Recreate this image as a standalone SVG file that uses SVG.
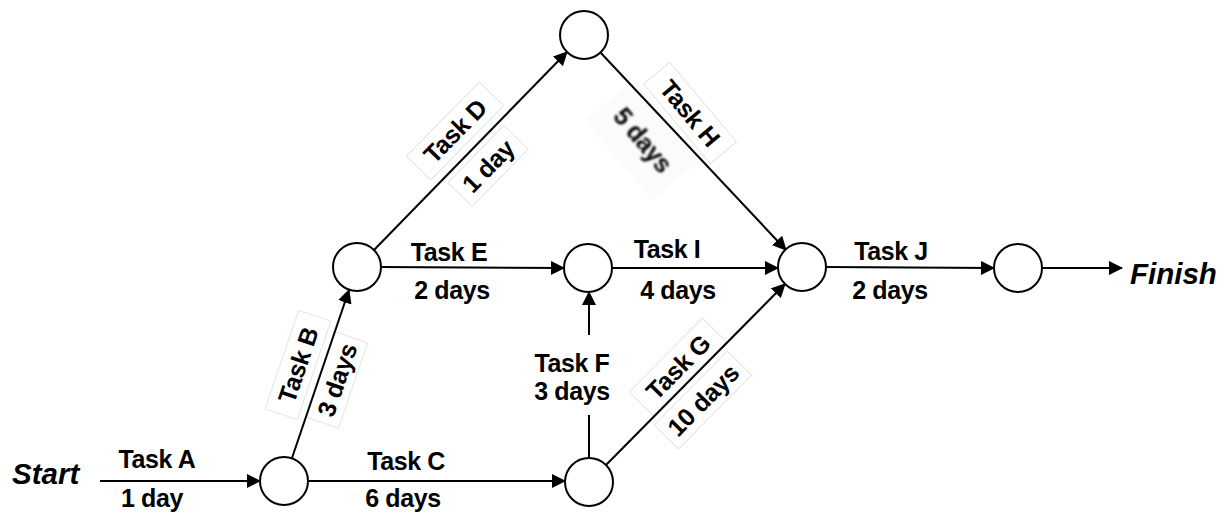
<svg xmlns="http://www.w3.org/2000/svg" width="1225" height="513" viewBox="0 0 1225 513">
  <style>
    .node { fill: #ffffff; stroke: #000000; stroke-width: 2; }
    .edge { fill: none; stroke: #000000; stroke-width: 2; }
    .lbl { font-family: "Liberation Sans", Arial, sans-serif; font-size: 25px; font-weight: bold; letter-spacing: -0.4px; fill: #000000; text-anchor: middle; }
    .end { font-family: "Liberation Sans", Arial, sans-serif; font-size: 29.5px; font-weight: bold; font-style: italic; fill: #000000; }
    .box { fill: #ffffff; stroke: #e4e4e4; stroke-width: 1; }
  </style>
  <defs>
    <marker id="arrow" viewBox="0 0 14 14" refX="13" refY="7" markerWidth="14" markerHeight="14" markerUnits="userSpaceOnUse" orient="auto">
      <path d="M0,0 L14,7 L0,14 z" fill="#000000"/>
    </marker>
    <filter id="soft" x="-20%" y="-20%" width="140%" height="140%">
      <feGaussianBlur stdDeviation="1.1"/>
    </filter>
  </defs>

  <rect width="1225" height="513" fill="#ffffff"/>

  <!-- label backing boxes for slanted task labels -->
  <g id="label-boxes">
    <rect class="box" x="-52" y="-17" width="104" height="34" transform="translate(455,131) rotate(-45.6)"/>
    <rect class="box" x="-40" y="-17" width="80" height="34" transform="translate(488,166) rotate(-45.6)"/>
    <rect class="box" x="-52" y="-17" width="104" height="34" transform="translate(298,365) rotate(-71.2)"/>
    <rect class="box" x="-45" y="-17" width="90" height="34" transform="translate(337,380) rotate(-71.2)"/>
    <rect class="box" x="-52" y="-17" width="104" height="34" transform="translate(678,367) rotate(-45.3)"/>
    <rect class="box" x="-52" y="-17" width="104" height="34" transform="translate(703,400) rotate(-45.3)"/>
    <rect class="box" x="-52" y="-17" width="104" height="34" transform="translate(690,113) rotate(50)"/>
    <rect x="-52" y="-32" width="104" height="64" fill="#fbfbfb" filter="url(#soft)" transform="translate(643,140) rotate(50)"/>
  </g>

  <!-- connectors -->
  <g id="connectors">
    <line class="edge" x1="100" y1="481" x2="260" y2="481" marker-end="url(#arrow)"/>
    <line class="edge" x1="292" y1="458" x2="349" y2="290" marker-end="url(#arrow)"/>
    <line class="edge" x1="308" y1="481" x2="565" y2="481" marker-end="url(#arrow)"/>
    <line class="edge" x1="374" y1="250" x2="567" y2="52" marker-end="url(#arrow)"/>
    <line class="edge" x1="381" y1="267" x2="564" y2="268" marker-end="url(#arrow)"/>
    <line class="edge" x1="600" y1="52" x2="786" y2="250" marker-end="url(#arrow)"/>
    <line class="edge" x1="612" y1="268" x2="778" y2="268" marker-end="url(#arrow)"/>
    <line class="edge" x1="589" y1="458" x2="589" y2="415"/>
    <line class="edge" x1="589" y1="335" x2="589" y2="292" marker-end="url(#arrow)"/>
    <line class="edge" x1="606" y1="465" x2="785" y2="284" marker-end="url(#arrow)"/>
    <line class="edge" x1="826" y1="267" x2="994" y2="268" marker-end="url(#arrow)"/>
    <line class="edge" x1="1042" y1="268" x2="1122" y2="268" marker-end="url(#arrow)"/>
  </g>

  <!-- event nodes -->
  <g id="n1"><circle class="node" cx="284" cy="481" r="24"/></g>
  <g id="n2"><circle class="node" cx="357" cy="267" r="24"/></g>
  <g id="n3"><circle class="node" cx="584" cy="35" r="24"/></g>
  <g id="n4"><circle class="node" cx="588" cy="268" r="24"/></g>
  <g id="n5"><circle class="node" cx="589" cy="482" r="24"/></g>
  <g id="n6"><circle class="node" cx="802" cy="267" r="24"/></g>
  <g id="n7"><circle class="node" cx="1018" cy="268" r="24"/></g>

  <!-- start / finish -->
  <g id="start"><text class="end" x="12" y="484">Start</text></g>
  <g id="finish"><text class="end" x="1130" y="284">Finish</text></g>

  <!-- task labels -->
  <g id="labels">
    <text class="lbl" x="157" y="468">Task A</text>
    <text class="lbl" x="152" y="507">1 day</text>
    <text class="lbl" x="406" y="470">Task C</text>
    <text class="lbl" x="403" y="507">6 days</text>
    <text class="lbl" x="449" y="261">Task E</text>
    <text class="lbl" x="452" y="299">2 days</text>
    <text class="lbl" x="667" y="258">Task I</text>
    <text class="lbl" x="678" y="299">4 days</text>
    <text class="lbl" x="891" y="260">Task J</text>
    <text class="lbl" x="890" y="299">2 days</text>
    <text class="lbl" x="572" y="372">Task F</text>
    <text class="lbl" x="572" y="400">3 days</text>

    <text class="lbl" transform="translate(455,131) rotate(-45.6)" y="9">Task D</text>
    <text class="lbl" transform="translate(488,166) rotate(-45.6)" y="9">1 day</text>
    <text class="lbl" transform="translate(298,365) rotate(-71.2)" y="9">Task B</text>
    <text class="lbl" transform="translate(337,380) rotate(-71.2)" y="9">3 days</text>
    <text class="lbl" transform="translate(678,367) rotate(-45.3)" y="9">Task G</text>
    <text class="lbl" transform="translate(703,400) rotate(-45.3)" y="9">10 days</text>
    <text class="lbl" transform="translate(690,113) rotate(50)" y="9" fill="#222222">Task H</text>
    <text class="lbl" transform="translate(643,140) rotate(50)" y="9" fill="#444444" filter="url(#soft)">5 days</text>
  </g>
</svg>
